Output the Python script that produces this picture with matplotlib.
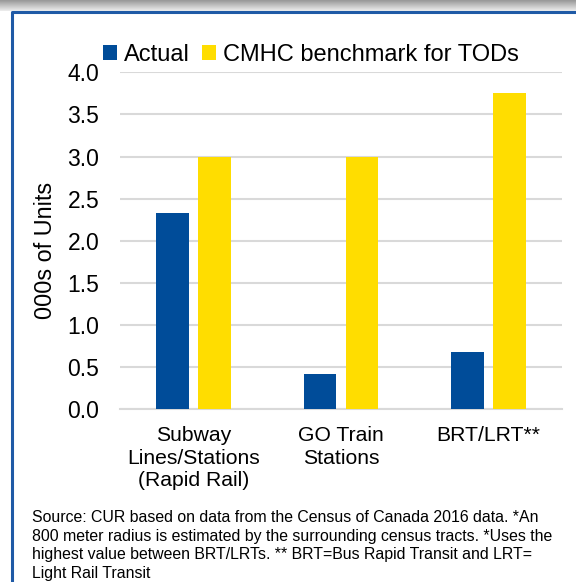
import numpy as np
import matplotlib.pyplot as plt

plt.rcParams['font.family'] = ['Liberation Sans', 'DejaVu Sans']

# data
categories = ["Subway\nLines/Stations\n(Rapid Rail)", "GO Train\nStations", "BRT/LRT**"]
actual = [2.33, 0.42, 0.68]
benchmark = [3.0, 3.0, 3.75]
series_names = ["Actual", "CMHC benchmark for TODs"]
yticks = [0.0, 0.5, 1.0, 1.5, 2.0, 2.5, 3.0, 3.5, 4.0]
note = ("Source: CUR based on data from the Census of Canada 2016 data. *An\n"
        "800 meter radius is estimated by the surrounding census tracts. *Uses the\n"
        "highest value between BRT/LRTs. ** BRT=Bus Rapid Transit and LRT=\n"
        "Light Rail Transit")

W, H = 576, 582
fig = plt.figure(figsize=(W / 100, H / 100), dpi=100)

# slide-style frame: grey gradient strip on top, blue border
bg = fig.add_axes([0, 0, 1, 1])
bg.set_xlim(0, W)
bg.set_ylim(H, 0)
bg.axis('off')
grad = np.linspace(0.56, 0.93, 50).reshape(-1, 1)
bg.imshow(grad, cmap='gray', vmin=0, vmax=1, extent=[0, W, 11.5, 0], aspect='auto')
bg.plot([12.2, 12.2, W], [H, 12.4, 12.4], color='#1F5AA6', lw=2.2, solid_capstyle='butt')

ax = fig.add_axes([120 / W, 1 - 409.3 / H, 442 / W, 337 / H])
x = np.arange(len(categories))
w = 0.222
off = 0.1426
ax.bar(x - off, actual, w, color='#004C99', label=series_names[0], zorder=3)
ax.bar(x + off, benchmark, w, color='#FFDD00', label=series_names[1], zorder=3)

ax.set_xlim(-0.5, 2.5)
ax.set_ylim(0, 4.0)
ax.set_yticks(yticks)
ax.set_yticklabels([f"{v:.1f}" for v in yticks], fontsize=16.5)
ax.set_xticks(x)
ax.set_xticklabels(categories, fontsize=15.2, linespacing=1.25)
ax.tick_params(axis='y', length=0, pad=15)
ax.tick_params(axis='x', length=0, pad=12)
ax.grid(axis='y', color='#D9D9D9', lw=1.5, zorder=0)
for s in ['top', 'right', 'left']:
    ax.spines[s].set_visible(False)
ax.spines['bottom'].set_color('#D9D9D9')
ax.spines['bottom'].set_linewidth(1.5)

ax.set_ylabel("000s of Units", fontsize=16.8)
ax.yaxis.set_label_coords(-0.142, 0.47)

ax.legend(loc='lower left', bbox_to_anchor=(-0.06, 0.99), ncol=2, frameon=False,
          fontsize=17, handlelength=0.6, handleheight=0.6, handletextpad=0.3,
          columnspacing=0.5, borderaxespad=0.0)

fig.text(32 / W, 1 - 510 / H, note, fontsize=11.4, va='top', ha='left', linespacing=1.3)

fig.savefig("out.png", dpi=100)
